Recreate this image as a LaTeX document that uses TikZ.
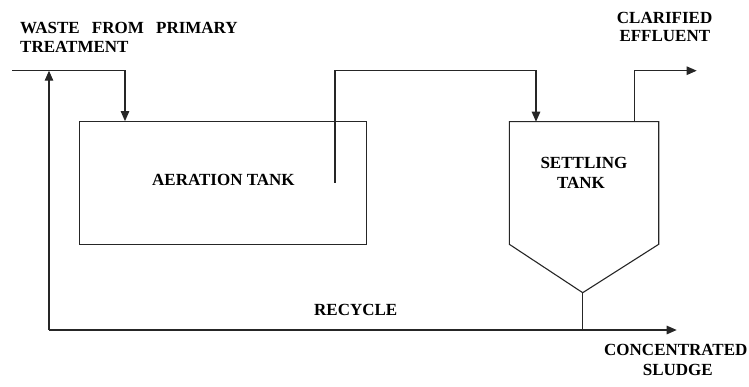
\documentclass[tikz,border=0pt]{standalone}
\usepackage{fontspec}
\setmainfont{Liberation Serif}
\usetikzlibrary{arrows.meta}
\begin{document}
\begin{tikzpicture}[x=1pt,y=-1pt,
  line/.style={draw=black!85,line width=1.1pt},
  flow/.style={line,-{Triangle[length=10pt,width=8.5pt]}},
  lbl/.style={inner sep=0pt,font=\fontsize{17}{20}\selectfont\bfseries},
  tank/.style={line,rectangle,inner sep=0pt}]
\useasboundingbox (0,0) rectangle (749,387);
% texts
\node[lbl,anchor=base west] (waste1) at (20,33.3) {WASTE\hspace{0.72em}FROM\hspace{0.72em}PRIMARY};
\node[lbl,anchor=base west] (waste2) at (20,52.3) {TREATMENT};
\node[lbl,anchor=base west] (clar1) at (616.7,23.3) {CLARIFIED};
\node[lbl,anchor=base west] (clar2) at (619.3,41.7) {EFFLUENT};
\node[lbl,anchor=base west] (recy) at (314,315.7) {RECYCLE};
\node[lbl,anchor=base west] (conc1) at (604,355.7) {CONCENTRATED};
\node[lbl,anchor=base west] (conc2) at (642.7,375) {SLUDGE};
% aeration tank
\node[tank,minimum width=287.4pt,minimum height=122.6pt] (aer) at (223,183) {};
\node[lbl,anchor=base west] (aertxt) at (152,185.7) {AERATION TANK};
% settling tank
\coordinate (stl) at (509.3,121.7);
\coordinate (str) at (658.7,121.7);
\coordinate (sbl) at (509.3,244.3);
\coordinate (sbr) at (658.7,244.3);
\coordinate (sv) at (582.7,292.7);
\draw[line] (sv) -- (sbl) -- (stl) -- (str) -- (sbr) -- cycle;
\node[lbl,anchor=base] (settxt1) at (584,169) {SETTLING};
\node[lbl,anchor=base] (settxt2) at (581,188.3) {TANK};
% coordinates for flows
\coordinate (inL) at (12,70.7);
\coordinate (inC) at (125,70.7);
\coordinate (aerout) at (335,182.7);
\coordinate (aerup) at (335,70.7);
\coordinate (stin) at (536,70.7);
\coordinate (effbase) at (634.3,121.7);
\coordinate (effup) at (634.3,70.7);
\coordinate (effend) at (696.7,70.7);
\coordinate (sbot) at (582.7,330);
\coordinate (recL) at (49,330);
\coordinate (recR) at (676.7,330);
\coordinate (recTop) at (49,70.7);
% flows
\draw[flow] (inL) -- (inC) -- (inC |- aer.north);
\draw[flow] (aerout) -- (aerup) -- (stin) -- (stin |- stl);
\draw[flow] (effbase) -- (effup) -- (effend);
\draw[line] (sv) -- (sbot);
\draw[flow] (recL) -- (recR);
\draw[flow] (recL) -- (recTop);
\end{tikzpicture}
\end{document}
